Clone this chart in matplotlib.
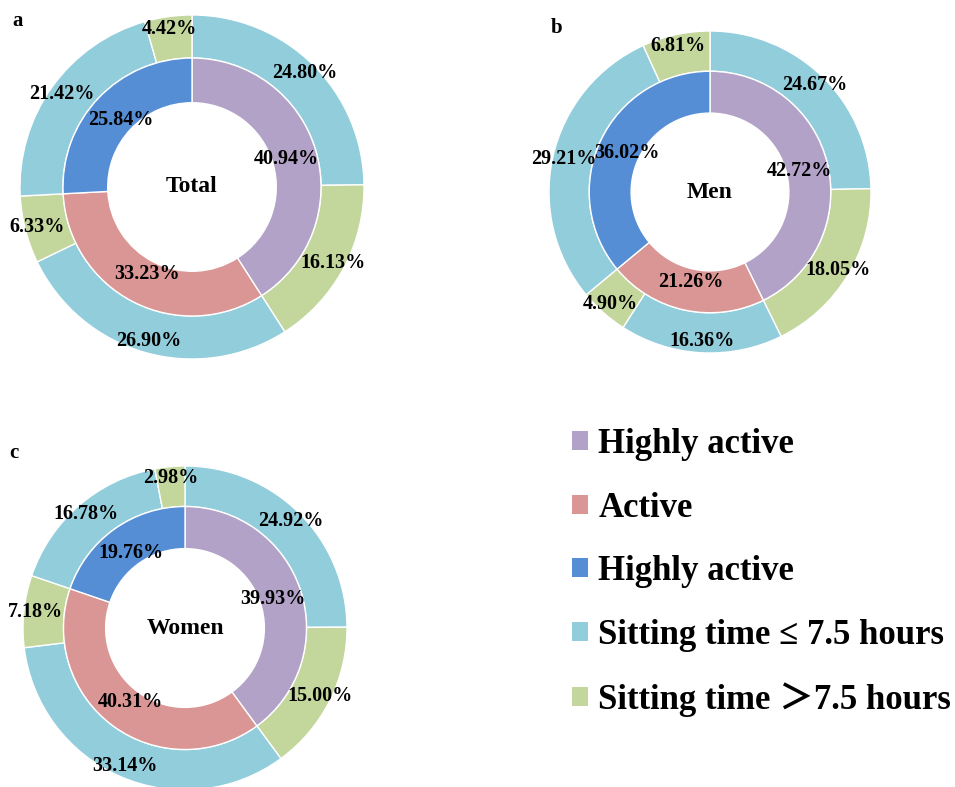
import matplotlib.pyplot as plt
from matplotlib.patches import Patch
import numpy as np

plt.rcParams['font.family'] = ['Liberation Serif', 'Noto Sans CJK SC']
plt.rcParams['font.weight'] = 'bold'

# 数据
groups = ['Total', 'Men', 'Women']
panel_tags = ['a', 'b', 'c']
inner_total = [40.94, 33.23, 25.84]
outer_total = [24.80, 16.13, 26.90, 6.33, 21.42, 4.42]
inner_men = [42.72, 21.26, 36.02]
outer_men = [24.67, 18.05, 16.36, 4.90, 29.21, 6.81]
inner_women = [39.93, 40.31, 19.76]
outer_women = [24.92, 15.00, 33.14, 7.18, 16.78, 2.98]
legend_labels = ['Highly active', 'Active', 'Highly active',
                 'Sitting time \u2264 7.5 hours', 'Sitting time \uff1e7.5 hours']

inner_colors = ['#B3A2C7', '#D99694', '#558ED5']
outer_colors = ['#92CDDC', '#C3D69B'] * 3

W, H = 955, 787


def add_donut_axes(cx, cy, r):
    # 像素坐标 -> 图坐标
    return fig.add_axes([(cx - r) / W, (H - cy - r) / H, 2 * r / W, 2 * r / H])


def label_ring(ax, values, radius):
    total = sum(values)
    start = 90.0
    for v in values:
        mid = np.deg2rad(start - v / total * 180.0)
        ax.text(radius * np.cos(mid), radius * np.sin(mid), f'{v:.2f}%',
                ha='center', va='center', fontsize=14.5, fontweight='bold')
        start -= v / total * 360.0


def draw_donut(ax, inner, outer, title):
    ax.pie(outer, radius=1.0, colors=outer_colors, startangle=90, counterclock=False,
           wedgeprops=dict(width=0.25, edgecolor='white', linewidth=1))
    ax.pie(inner, radius=0.75, colors=inner_colors, startangle=90, counterclock=False,
           wedgeprops=dict(width=0.26, edgecolor='white', linewidth=1))
    label_ring(ax, outer, 0.93)
    label_ring(ax, inner, 0.57)
    ax.text(0, 0, title, ha='center', va='center', fontsize=17, fontweight='bold')
    ax.set_xlim(-1, 1)
    ax.set_ylim(-1, 1)
    ax.set_aspect('equal')
    ax.axis('off')


fig = plt.figure(figsize=(W / 100, H / 100), dpi=100)

draw_donut(add_donut_axes(192, 187, 172), inner_total, outer_total, groups[0])
draw_donut(add_donut_axes(710, 192, 161), inner_men, outer_men, groups[1])
draw_donut(add_donut_axes(185, 628, 162), inner_women, outer_women, groups[2])

fig.text(18 / W, 1 - 21 / H, panel_tags[0], fontsize=15, fontweight='bold', ha='center', va='center')
fig.text(557 / W, 1 - 28 / H, panel_tags[1], fontsize=15, fontweight='bold', ha='center', va='center')
fig.text(14 / W, 1 - 453 / H, panel_tags[2], fontsize=15, fontweight='bold', ha='center', va='center')

handles = [Patch(facecolor=c) for c in inner_colors + outer_colors[:2]]
fig.legend(handles, legend_labels, loc='upper left', bbox_to_anchor=(572 / W, 1 - 428 / H),
           frameon=False, handlelength=0.46, handleheight=0.46, borderpad=0, borderaxespad=0,
           handletextpad=0.3, labelspacing=0.88, prop=dict(weight='bold', size=25))

fig.savefig('out.png', dpi=100)
